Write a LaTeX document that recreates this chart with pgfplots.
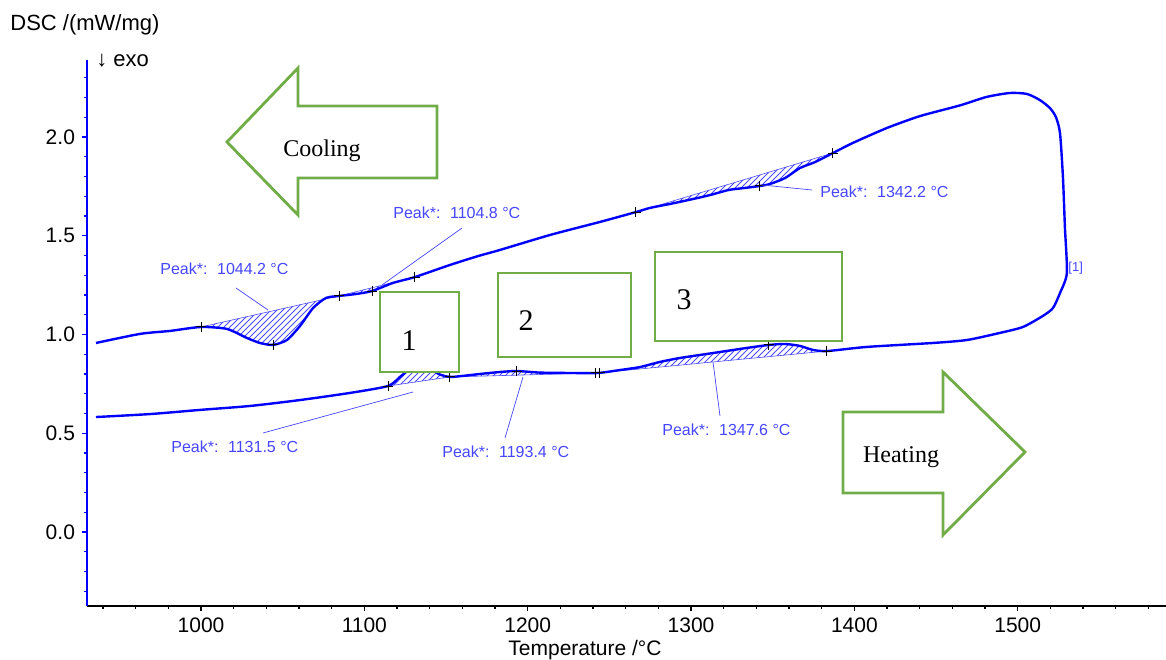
\documentclass[border=0pt]{standalone}
\usepackage{fontspec}
\setmainfont{Liberation Serif}
\newfontfamily\arial{Liberation Sans}
\usepackage{pgfplots}
\pgfplotsset{compat=1.18}
\usetikzlibrary{patterns}
\definecolor{boxgreen}{RGB}{112,173,71}
\definecolor{lblblue}{RGB}{70,70,255}
\begin{document}
\begin{tikzpicture}
\useasboundingbox (-43.5pt,-26.5pt) rectangle (539.5pt,303pt);
\begin{axis}[
  scale only axis, width=539.5pt, height=273pt,
  xmin=930.2, xmax=1590.8, ymin=-0.375, ymax=2.39,
  axis x line=bottom, axis y line=left,
  axis line style={-},
  x axis line style={-, black, line width=1pt},
  y axis line style={-, blue, line width=1.3pt},
  xtick={1000,1100,...,1500}, ytick={0,0.5,...,2},
  minor xtick={940,960,...,1580},
  minor ytick={-0.3,-0.2,...,2.3},
  tick align=outside,
  major tick length=2.5pt, minor tick length=1.5pt,
  xtick style={black, line width=0.6pt},
  ytick style={blue, line width=0.6pt},
  tick label style={font=\arial\fontsize{10.5}{12}\selectfont},
  /pgf/number format/assume math mode=true,
  xticklabel style={/pgf/number format/set thousands separator={}},
  yticklabel style={/pgf/number format/fixed, /pgf/number format/fixed zerofill, /pgf/number format/precision=1},
  hatch/.style={draw=blue!70, line width=0.3pt, pattern=north east lines, pattern color=blue!70, smooth, tension=0.4},
]
% hatched peak areas (curve against straight baseline)
\addplot[hatch]
  coordinates {(1000.0,1.038) (1015.9,1.028) (1028.2,0.982) (1036.1,0.957) (1044.1,0.947) (1052.6,0.972) (1060.6,1.043) (1068.6,1.134) (1076.5,1.185) (1084.5,1.195)} -- cycle;
\addplot[hatch]
  coordinates {(1084.5,1.195) (1094.9,1.205) (1104.7,1.220) (1117.5,1.261) (1131.0,1.291)} -- cycle;
\addplot[hatch]
  coordinates {(1266.3,1.620) (1274.9,1.641) (1287.1,1.661) (1301.2,1.686) (1311.6,1.706) (1323.2,1.732) (1333.0,1.742) (1342.2,1.752) (1348.3,1.762) (1357.5,1.792) (1366.7,1.843) (1375.9,1.873) (1386.9,1.919)} -- cycle;
\addplot[hatch]
  coordinates {(1114.5,0.739) (1121.8,0.785) (1127.9,0.825) (1132.8,0.840) (1140.2,0.825) (1146.3,0.797) (1152.4,0.785)} -- cycle;
\addplot[hatch]
  coordinates {(1152.4,0.785) (1160,0.790) (1170.8,0.800) (1183.0,0.810) (1193.4,0.815) (1207.5,0.807) (1225.9,0.805) (1243.0,0.805)} -- cycle;
\addplot[hatch]
  coordinates {(1243.0,0.805) (1256.5,0.820) (1268.7,0.835) (1281.0,0.861) (1293.2,0.881) (1313.4,0.906) (1334.3,0.932) (1347.7,0.947) (1357.5,0.952) (1366.7,0.942) (1374.6,0.922) (1383.2,0.916)} -- cycle;
% DSC loop: heating then cooling
\addplot[blue, line width=1.2pt, line join=round, smooth, tension=0.4] coordinates {
(935.7,0.582) (968.8,0.597) (999.4,0.618) (1030.0,0.638) (1060.6,0.668) (1091.2,0.704)
(1114.5,0.739) (1121.8,0.785) (1127.9,0.825) (1132.8,0.840) (1140.2,0.825) (1146.3,0.797)
(1152.4,0.785) (1160,0.790) (1170.8,0.800) (1183.0,0.810) (1193.4,0.815) (1207.5,0.807)
(1225.9,0.805) (1243.0,0.805) (1256.5,0.820) (1268.7,0.835) (1281.0,0.861) (1293.2,0.881)
(1313.4,0.906) (1334.3,0.932) (1347.7,0.947) (1357.5,0.952) (1366.7,0.942) (1374.6,0.922)
(1383.2,0.916) (1407.7,0.937) (1448.1,0.957) (1468.9,0.972) (1489.1,1.008) (1503.2,1.038)
(1515.4,1.094) (1521.6,1.134) (1525.9,1.210) (1530.1,1.311)
(1528.9,1.544) (1527.7,1.797) (1525.9,2.020) (1523.4,2.101) (1519.7,2.147) (1513.6,2.187)
(1505.7,2.218) (1495.3,2.223) (1481.0,2.203) (1464.6,2.160) (1440.2,2.106)
(1420.0,2.046) (1399.1,1.970) (1386.9,1.919) (1375.9,1.873) (1366.7,1.843) (1357.5,1.792)
(1348.3,1.762) (1342.2,1.752) (1333.0,1.742) (1323.2,1.732) (1311.6,1.706) (1301.2,1.686)
(1287.1,1.661) (1274.9,1.641) (1266.3,1.620) (1244.3,1.570) (1213.7,1.504) (1183.0,1.428)
(1169.6,1.397) (1152.4,1.352) (1131.0,1.291) (1117.5,1.261) (1104.7,1.220) (1094.9,1.205)
(1084.5,1.195) (1076.5,1.185) (1068.6,1.134) (1060.6,1.043) (1052.6,0.972) (1044.1,0.947)
(1036.1,0.957) (1028.2,0.982) (1015.9,1.028) (1000.0,1.038) (981.0,1.018) (962.7,1.003)
(935.7,0.957)};
% evaluation limits and peaks
\addplot[only marks, mark=+, mark size=2.5pt, black, mark options={line width=0.5pt}] coordinates {
(1000.0,1.038) (1044.1,0.947) (1084.5,1.195) (1104.7,1.220) (1131.0,1.291)
(1266.3,1.620) (1342.2,1.752) (1386.9,1.919)
(1114.5,0.739) (1152.4,0.785) (1193.4,0.815) (1241.8,0.805) (1244.2,0.805)
(1347.7,0.947) (1383.2,0.916)};
\end{axis}
% annotations, in pixel units of the reference
\begin{scope}[shift={(-43.5pt,303pt)}, x=0.5pt, y=-0.5pt]
\node[anchor=west, font=\arial\fontsize{11}{13}\selectfont, inner sep=0pt] at (10,25) {DSC /(mW/mg)};
\node[anchor=west, font=\arial\fontsize{11}{13}\selectfont, inner sep=0pt] at (96,61) {↓ exo};
\node[font=\arial\fontsize{10.5}{12}\selectfont, inner sep=0pt] at (585,650) {Temperature /°C};
\begin{scope}[draw=lblblue, line width=0.35pt]
\draw (236,288) -- (268,310);
\draw (462,228) -- (382,285);
\draw (762,185) -- (812,190);
\draw (263,433) -- (413,392);
\draw (505,438) -- (523,377);
\draw (720,416) -- (713,362);
\end{scope}
\begin{scope}[every node/.style={anchor=west, inner sep=0pt, text=lblblue, font=\arial\fontsize{8}{10}\selectfont}]
\node at (160,269) {Peak*:\hspace{0.6em}1044.2 °C};
\node at (393,213) {Peak*:\hspace{0.6em}1104.8 °C};
\node at (820,192) {Peak*:\hspace{0.6em}1342.2 °C};
\node at (171,447) {Peak*:\hspace{0.6em}1131.5 °C};
\node at (442,452) {Peak*:\hspace{0.6em}1193.4 °C};
\node at (662,430) {Peak*:\hspace{0.6em}1347.6 °C};
\node[font=\arial\fontsize{6.5}{8}\selectfont] at (1068,268) {[1]};
\end{scope}
\begin{scope}[draw=boxgreen, line width=1.4pt, fill=white]
\filldraw[fill=white] (227,142) -- (298,68) -- (298,106) -- (437,106) -- (437,178) -- (298,178) -- (298,215) -- cycle;
\filldraw[fill=white] (843,412) -- (943,412) -- (943,372) -- (1025,452) -- (943,535) -- (943,493) -- (843,493) -- cycle;
\filldraw[fill=white] (380,292) rectangle (459,372);
\filldraw[fill=white] (498,273) rectangle (631,357);
\filldraw[fill=white] (655,252) rectangle (842,341);
\end{scope}
\node[anchor=base, font=\fontsize{12}{14}\selectfont] at (322,157) {Cooling};
\node[anchor=base, font=\fontsize{12}{14}\selectfont] at (901,462) {Heating};
\node[anchor=base, font=\fontsize{15}{17}\selectfont] at (409,350) {1};
\node[anchor=base, font=\fontsize{15}{17}\selectfont] at (526,331) {2};
\node[anchor=base, font=\fontsize{15}{17}\selectfont] at (684,310) {3};
\end{scope}
\end{tikzpicture}
\end{document}
